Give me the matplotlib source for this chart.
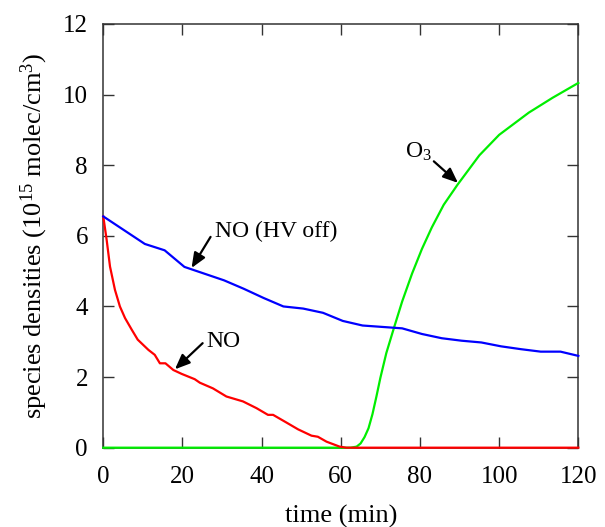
import numpy as np
import matplotlib
matplotlib.use('Agg')
import matplotlib.pyplot as plt

# dati (tempo in min, densita' in 1e15 molec/cm^3)
t_no_hv = [0, 10.5, 15.5, 20.5, 25.5, 30.5, 35.5, 40.5, 45.5, 50.5, 55.5, 60.5,
           65.5, 70.5, 75.5, 80.5, 85.5, 90.5, 95.5, 100.5, 105.5, 110.5, 115.5, 120]
no_hv = [6.55, 5.77, 5.59, 5.12, 4.93, 4.74, 4.5, 4.24, 4.0, 3.94, 3.82, 3.59,
         3.46, 3.42, 3.38, 3.22, 3.1, 3.03, 2.98, 2.87, 2.79, 2.72, 2.72, 2.6]

t_no = [0, 0.85, 1.7, 2.95, 4.2, 5.5, 7.2, 8.7, 10, 11.4, 13, 14.3, 15.7, 17.7,
        19.8, 23.1, 24.4, 27.7, 31.1, 35.3, 38.7, 41.6, 42.9, 46.3, 49.2, 52.6,
        54.2, 56.4, 59.7, 61.4, 120]
no = [6.55, 5.89, 5.13, 4.47, 4.0, 3.67, 3.34, 3.06, 2.92, 2.77, 2.63, 2.39,
      2.39, 2.2, 2.09, 1.94, 1.84, 1.68, 1.45, 1.31, 1.12, 0.93, 0.93, 0.71,
      0.52, 0.34, 0.31, 0.17, 0.03, 0, 0]

t_o3 = [0, 62.5, 64, 65, 66, 67, 68, 69, 70, 71.5, 73.5, 75.5, 78, 80.5, 83,
        86, 89.5, 95, 100, 107.5, 113.5, 120]
o3 = [0, 0, 0.03, 0.12, 0.3, 0.55, 0.95, 1.45, 1.98, 2.68, 3.42, 4.14, 4.93,
      5.63, 6.24, 6.88, 7.45, 8.28, 8.86, 9.49, 9.91, 10.33]

x_ticks = [0, 20, 40, 60, 80, 100, 120]
y_ticks = [0, 2, 4, 6, 8, 10, 12]

plt.rcParams['font.family'] = ['Liberation Serif', 'DejaVu Serif']
plt.rcParams['mathtext.fontset'] = 'custom'
plt.rcParams['mathtext.rm'] = 'Liberation Serif'
plt.rcParams['mathtext.it'] = 'Liberation Serif:italic'
plt.rcParams['font.size'] = 17

fig = plt.figure(figsize=(6.05, 5.27), dpi=100)
ax = fig.add_axes([0.1707, 0.1505, 0.7852, 0.8040])

ax.plot(t_o3, o3, color='#00ee00', lw=1.6, clip_on=False, zorder=3)
ax.plot(t_no, no, color='#ff0000', lw=1.6, clip_on=False, zorder=3)
ax.plot(t_no_hv, no_hv, color='#0000ff', lw=1.6, clip_on=False, zorder=3)

ax.set_xlim(0, 120)
ax.set_ylim(0, 12)
ax.set_xticks(x_ticks)
ax.set_yticks(y_ticks)
ax.tick_params(direction='in', length=8, width=1, color='#333333',
               top=True, right=True, labelsize=18)
ax.tick_params(axis='x', pad=13)
ax.tick_params(axis='y', pad=11)
for s in ax.spines.values():
    s.set_color('#333333')
    s.set_linewidth(1.1)

ax.set_xlabel('time (min)', fontsize=19, labelpad=12)
ax.set_ylabel(r'species densities (10$^{\mathrm{15}}$ molec/cm$^{\mathrm{3}}$)',
              fontsize=19, labelpad=9)

# frecce e etichette
arrow = dict(arrowstyle='-|>,head_length=0.6,head_width=0.25', color='black',
             lw=1.6, mutation_scale=15, shrinkA=0, shrinkB=0)
ax.annotate('', xy=(22.3, 5.09), xytext=(27.1, 5.97), arrowprops=arrow)
ax.text(28.2, 5.96, 'NO (HV off)', ha='left', va='baseline')
ax.annotate('', xy=(18.1, 2.22), xytext=(25.1, 2.96), arrowprops=arrow)
ax.text(26.1, 2.84, 'NO', ha='left', va='baseline')
ax.annotate('', xy=(89.6, 7.5), xytext=(83.5, 8.11), arrowprops=arrow)
ax.text(76.1, 8.2, r'O$_{\mathrm{3}}$', ha='left', va='baseline')

fig.savefig('out.png', dpi=100)
